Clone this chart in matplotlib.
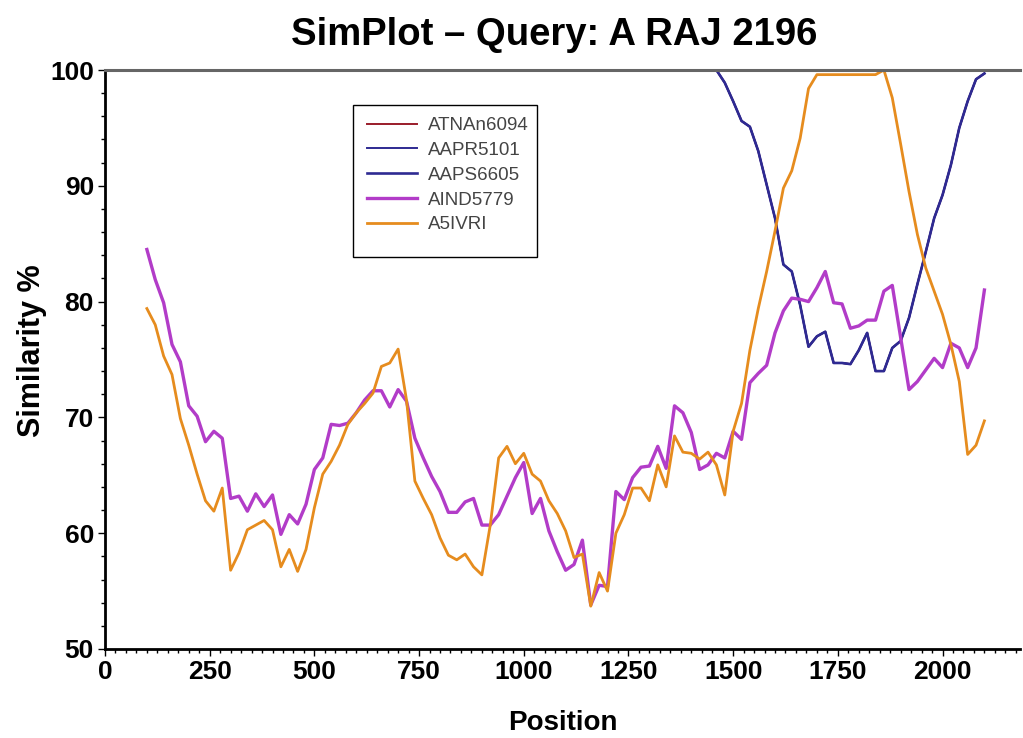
import numpy as np
import matplotlib
matplotlib.use("Agg")
import matplotlib.pyplot as plt
from matplotlib.patches import Rectangle
from matplotlib.ticker import MultipleLocator

plt.rcParams['font.family'] = ['Liberation Sans', 'DejaVu Sans']

# window midpoints (bp), 20 bp step
position = np.arange(100, 2101, 20)

a5ivri = [79.4, 78.0, 75.3, 73.7, 69.9, 67.6, 65.1, 62.8, 61.9, 63.9,
          56.8, 58.3, 60.3, 60.7, 61.1, 60.3, 57.1, 58.6, 56.7, 58.6,
          62.2, 65.1, 66.2, 67.6, 69.4, 70.4, 71.2, 72.1, 74.4, 74.7,
          75.9, 71.5, 64.5, 63.0, 61.6, 59.6, 58.1, 57.7, 58.2, 57.1,
          56.4, 60.7, 66.5, 67.5, 66.0, 66.9, 65.1, 64.5, 62.8, 61.7,
          60.2, 57.9, 58.2, 53.7, 56.6, 55.0, 60.0, 61.6, 63.9, 63.9,
          62.8, 65.9, 64.0, 68.4, 67.0, 66.9, 66.4, 67.0, 65.9, 63.3,
          68.8, 71.2, 75.8, 79.4, 82.6, 86.1, 89.8, 91.3, 94.1, 98.4,
          99.6, 99.6, 99.6, 99.6, 99.6, 99.6, 99.6, 99.6, 100.0, 97.6,
          93.6, 89.5, 85.8, 82.9, 80.9, 78.9, 76.3, 73.1, 66.8, 67.6,
          69.7]

aind5779 = [84.5, 81.9, 79.9, 76.3, 74.8, 71.0, 70.1, 67.9, 68.8, 68.2,
            63.0, 63.2, 61.9, 63.4, 62.3, 63.3, 59.9, 61.6, 60.8, 62.5,
            65.5, 66.5, 69.4, 69.3, 69.5, 70.4, 71.5, 72.3, 72.3, 70.9,
            72.4, 71.4, 68.2, 66.5, 64.9, 63.6, 61.8, 61.8, 62.7, 63.0,
            60.7, 60.7, 61.6, 63.2, 64.8, 66.1, 61.7, 63.0, 60.2, 58.4,
            56.8, 57.3, 59.4, 53.8, 55.5, 55.4, 63.6, 62.9, 64.8, 65.7,
            65.8, 67.5, 65.6, 71.0, 70.4, 68.7, 65.5, 65.9, 66.9, 66.5,
            68.8, 68.1, 73.0, 73.8, 74.5, 77.3, 79.2, 80.3, 80.2, 80.0,
            81.2, 82.6, 79.9, 79.8, 77.7, 77.9, 78.4, 78.4, 80.9, 81.4,
            76.9, 72.4, 73.1, 74.1, 75.1, 74.3, 76.4, 76.0, 74.3, 76.0,
            81.0]

# AAPR5101 / AAPS6605 sit at 100% until ~1460 bp
aaps6605 = [100.0] * 69 + [
    98.9, 97.3, 95.6, 95.1, 93.0, 90.1, 87.2, 83.2, 82.6, 79.7,
    76.1, 77.0, 77.4, 74.7, 74.7, 74.6, 75.8, 77.3, 74.0, 74.0,
    76.0, 76.6, 78.6, 81.5, 84.3, 87.2, 89.2, 91.8, 95.0, 97.3,
    99.2, 99.7]
aapr5101 = list(aaps6605)
atnan6094 = list(aaps6605)

series = [
    ("ATNAn6094", atnan6094, "#9a1c2a", 1.4),
    ("AAPR5101", aapr5101, "#2e2a92", 1.4),
    ("AAPS6605", aaps6605, "#2e2a92", 1.9),
    ("AIND5779", aind5779, "#b23cc8", 2.4),
    ("A5IVRI", a5ivri, "#e68c1e", 2.0),
]

W, H = 1023, 738
fig = plt.figure(figsize=(W / 100, H / 100), dpi=100)
ax = fig.add_axes([105 / W, 89 / H, 915 / W, 579 / H])

for name, vals, col, lw in series:
    ax.plot(position, vals, color=col, lw=lw, label=name)

ax.set_xlim(0, 2185)
ax.set_ylim(50, 100)
ax.xaxis.set_major_locator(MultipleLocator(250))
ax.xaxis.set_minor_locator(MultipleLocator(25))
ax.yaxis.set_major_locator(MultipleLocator(10))
ax.yaxis.set_minor_locator(MultipleLocator(2))

ax.spines['right'].set_visible(False)
ax.spines['top'].set_color('#666666')
ax.spines['top'].set_linewidth(2.2)
ax.spines['top'].set_zorder(5)
ax.spines['left'].set_linewidth(2)
ax.spines['bottom'].set_linewidth(2)
ax.tick_params(which='major', length=5, width=1, labelsize=19, pad=3)
ax.tick_params(which='minor', length=3, width=1)
for lab in ax.get_xticklabels() + ax.get_yticklabels():
    lab.set_fontweight('bold')

ax.set_xlabel("Position", fontsize=20, fontweight='bold', labelpad=19)
ax.set_ylabel("Similarity %", fontsize=22, fontweight='bold', labelpad=2)
ax.yaxis.label.set_y(0.516)
fig.text(0.542, 0.952, "SimPlot \u2013 Query: A RAJ 2196", ha='center', va='center',
         fontsize=27.5, fontweight='bold')

# legend box drawn separately so its padding matches the original
box = Rectangle((353 / W, 1 - 257 / H), 184 / W, 152 / H,
                transform=fig.transFigure, facecolor='white',
                edgecolor='black', lw=1, zorder=3, clip_on=False)
ax.add_patch(box)
leg = ax.legend(loc='upper left', bbox_to_anchor=(367 / W, 1 - 117 / H),
                bbox_transform=fig.transFigure, fontsize=13.5, frameon=False,
                handlelength=2.67, handletextpad=0.6, borderpad=0,
                labelspacing=0.41, borderaxespad=0)
leg.set_zorder(4)
for t in leg.get_texts():
    t.set_color('#444444')

fig.savefig("out.png", dpi=100)
